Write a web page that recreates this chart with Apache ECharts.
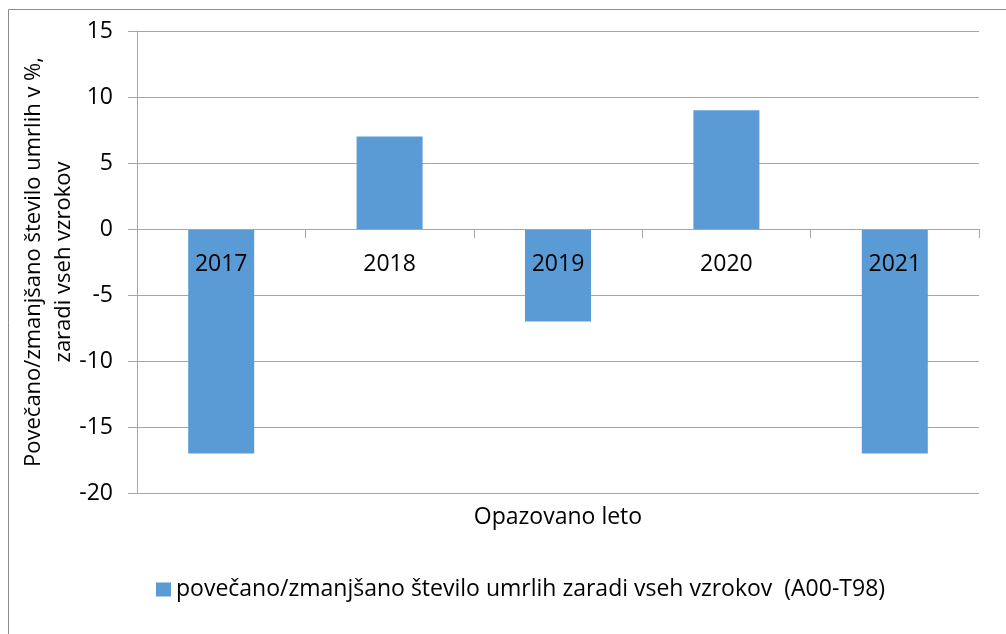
<!DOCTYPE html>
<html>
<head>
<meta charset="utf-8">
<script src="https://cdn.jsdelivr.net/npm/echarts@6/dist/echarts.min.js"></script>
<style>
  html, body { margin: 0; padding: 0; background: #fff; }
  #chart { width: 1006px; height: 634px; }
</style>
</head>
<body>
<div id="chart"></div>
<script>
// podatki
const years = ['2017', '2018', '2019', '2020', '2021'];
const changePct = [-17, 7, -7, 9, -17];
const yTicks = { min: -20, max: 15, step: 5 };
const seriesName = 'povečano/zmanjšano število umrlih zaradi vseh vzrokov  (A00-T98)';
const yName = 'Povečano/zmanjšano število umrlih v %,\nzaradi vseh vzrokov';
const xName = 'Opazovano leto';

const lineColor = '#A6A6A6';
const barColor = '#5B9BD5';
const font = '"Open Sans", Lato, sans-serif';
const fs = 23;

// os x sedi na ničli: zamik od spodnjega roba mreže
const gridTop = 31, gridBottom = 141, chartH = 634;
const plotH = chartH - gridTop - gridBottom;
const zeroOffset = -plotH * (0 - yTicks.min) / (yTicks.max - yTicks.min);

const myChart = echarts.init(document.getElementById('chart'));
const option = {
  animation: false,
  textStyle: { fontFamily: font },
  grid: { left: 137, right: 27, top: gridTop, bottom: gridBottom },
  legend: {
    left: 151,
    top: 573,
    icon: 'rect',
    itemWidth: 15,
    itemHeight: 14,
    itemGap: 6,
    textStyle: { fontSize: fs, color: '#000', fontFamily: font },
    data: [seriesName],
  },
  graphic: [
    {
      type: 'rect',
      shape: { x: 8.5, y: 9.5, width: 1020, height: 650 },
      style: { fill: 'none', stroke: '#8C8C8C', lineWidth: 1 },
      silent: true,
      z: -1,
    },
    {
      type: 'text',
      x: 558,
      y: 517,
      style: {
        text: xName,
        fontSize: fs,
        fontFamily: font,
        fill: '#000',
        align: 'center',
        verticalAlign: 'middle',
      },
    },
  ],
  xAxis: {
    type: 'category',
    data: years,
    z: 10,
    offset: zeroOffset,
    axisLine: { onZero: false, lineStyle: { color: lineColor } },
    axisTick: { show: true, length: 9, lineStyle: { color: lineColor } },
    axisLabel: { fontSize: fs, color: '#000', margin: 24, fontFamily: font },
    splitLine: { show: false },
  },
  yAxis: {
    type: 'value',
    min: yTicks.min,
    max: yTicks.max,
    interval: yTicks.step,
    name: yName,
    nameLocation: 'middle',
    nameRotate: 90,
    nameGap: 58,
    nameMoveOverlap: false,
    nameTextStyle: { fontSize: 22, color: '#000', lineHeight: 30, fontFamily: font },
    axisLine: { show: true, lineStyle: { color: lineColor } },
    axisTick: { show: true, length: 9, lineStyle: { color: lineColor } },
    axisLabel: { fontSize: fs, color: '#000', margin: 24, fontFamily: font },
    splitLine: { show: true, lineStyle: { color: lineColor } },
  },
  series: [
    {
      name: seriesName,
      type: 'bar',
      data: changePct,
      barWidth: 66,
      itemStyle: { color: barColor },
    },
  ],
};
myChart.setOption(option);
</script>
</body>
</html>
